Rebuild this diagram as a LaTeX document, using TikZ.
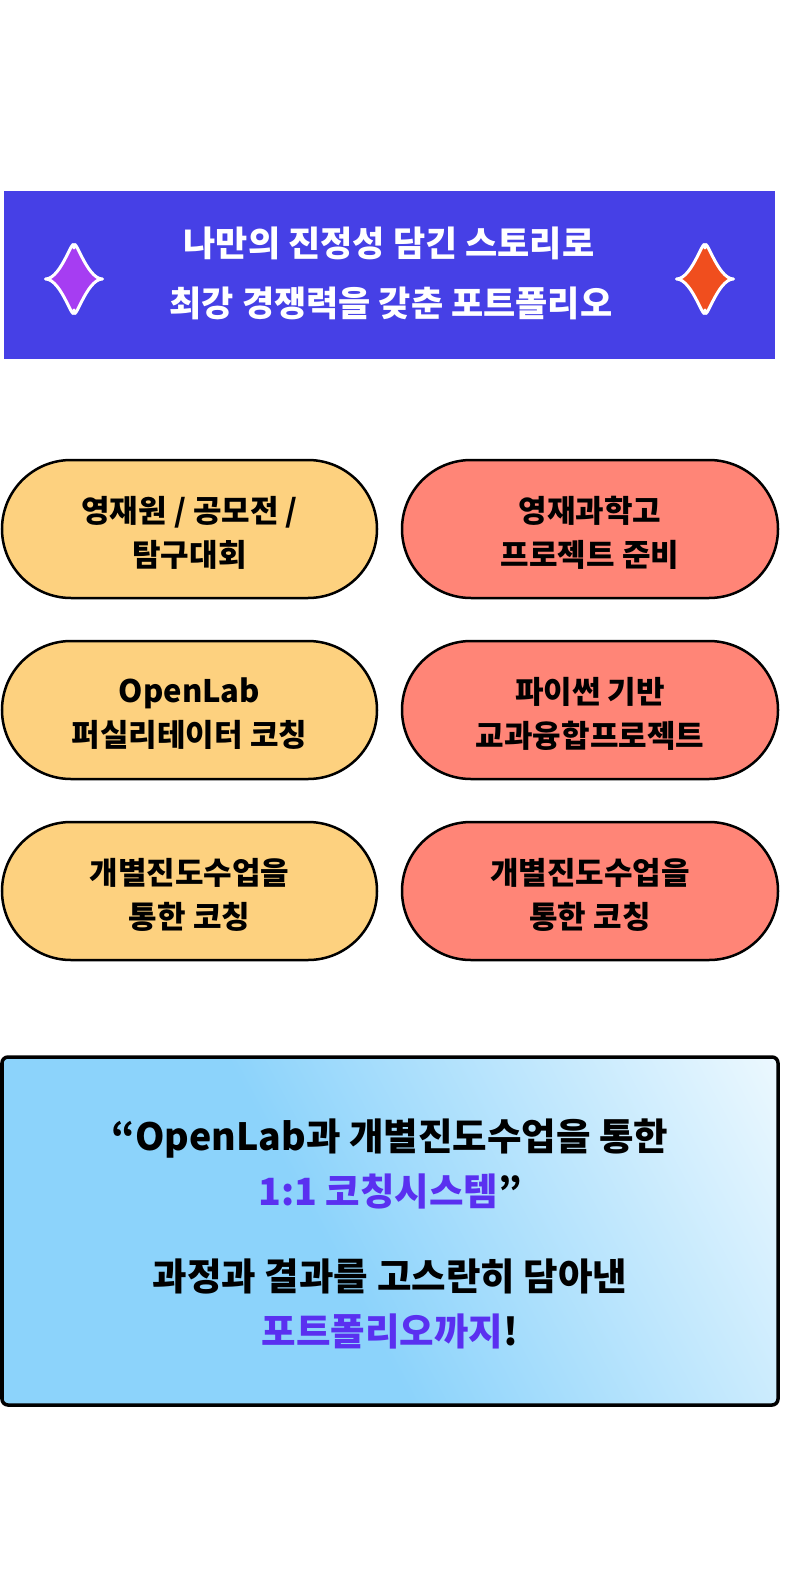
\documentclass[tikz,border=0pt]{standalone}
\usepackage{fontspec}
\setmainfont{Noto Sans CJK KR}
\usetikzlibrary{shadings}
\definecolor{banner}{HTML}{4640E6}
\definecolor{starpurple}{HTML}{A63DF2}
\definecolor{starred}{HTML}{F04E1E}
\definecolor{pillyellow}{HTML}{FDD17F}
\definecolor{pillred}{HTML}{FF8577}
\definecolor{sky}{HTML}{8CD3FB}
\definecolor{skywhite}{HTML}{F6FCFF}
\definecolor{accent}{HTML}{5A30F0}
\pgfdeclarehorizontalshading{boxshade}{100bp}{color(0bp)=(sky); color(45bp)=(sky); color(88bp)=(skywhite); color(100bp)=(skywhite)}
\tikzset{
  pill/.style={draw=black, line width=2.5pt, rounded corners=69pt},
  pilltext/.style={font=\fontsize{31}{44}\selectfont\bfseries, align=center, inner sep=0pt},
  bantext/.style={font=\fontsize{35}{60}\selectfont\bfseries, text=white, align=center, inner sep=0pt},
  boxtext/.style={font=\fontsize{37.5}{55}\selectfont\bfseries, align=center, inner sep=0pt},
  star/.style={draw=white, line width=3pt, line join=round}
}
\newcommand{\sparkle}[3]{%
  \fill[#3] (#1,#2-31) to[out=90,in=180] (#1+28.5,#2) to[out=180,in=-90] (#1,#2+31) to[out=-90,in=0] (#1-28.5,#2) to[out=0,in=90] cycle;
  \draw[star] (#1,#2-31) to[out=90,in=180] (#1+28.5,#2) to[out=180,in=-90] (#1,#2+31) to[out=-90,in=0] (#1-28.5,#2) to[out=0,in=90] cycle;
}
\begin{document}
\begin{tikzpicture}[x=1pt,y=-1pt]
\useasboundingbox[fill=white] (0,0) rectangle (792,1594);
% banner
\fill[banner] (4,191) rectangle (775,359);
\sparkle{74}{279}{starpurple}
\sparkle{705}{279}{starred}
\node[bantext] (b1) at (389,243) {나만의 진정성 담긴 스토리로};
\node[bantext] (b2) at (391,303) {최강 경쟁력을 갖춘 포트폴리오};
% pills
\draw[pill, fill=pillyellow] (2,460) rectangle (377,598);
\draw[pill, fill=pillred] (402,460) rectangle (778,598);
\draw[pill, fill=pillyellow] (2,641) rectangle (377,779);
\draw[pill, fill=pillred] (402,641) rectangle (778,779);
\draw[pill, fill=pillyellow] (2,822) rectangle (377,960);
\draw[pill, fill=pillred] (402,822) rectangle (778,960);
\node[pilltext] (p1) at (189.5,533) {영재원 / 공모전 /\\탐구대회};
\node[pilltext] (p2) at (590,533) {영재과학고\\프로젝트 준비};
\node[pilltext] (p3) at (189.5,714) {OpenLab\\퍼실리테이터 코칭};
\node[pilltext] (p4) at (590,714) {파이썬 기반\\교과융합프로젝트};
\node[pilltext] (p5) at (189.5,895) {개별진도수업을\\통한 코칭};
\node[pilltext] (p6) at (590,895) {개별진도수업을\\통한 코칭};
% bottom box
\shade[shading=boxshade, shading angle=28, rounded corners=6pt] (2,1057) rectangle (778,1405);
\draw[line width=3.5pt, rounded corners=6pt] (2,1057) rectangle (778,1405);
\node[boxtext] (t1) at (390,1164) {“OpenLab과 개별진도수업을 통한\\\textcolor{accent}{1:1 코칭시스템}”};
\node[boxtext] (t2) at (390,1304) {과정과 결과를 고스란히 담아낸\\\textcolor{accent}{포트폴리오까지}!};
\end{tikzpicture}
\end{document}
